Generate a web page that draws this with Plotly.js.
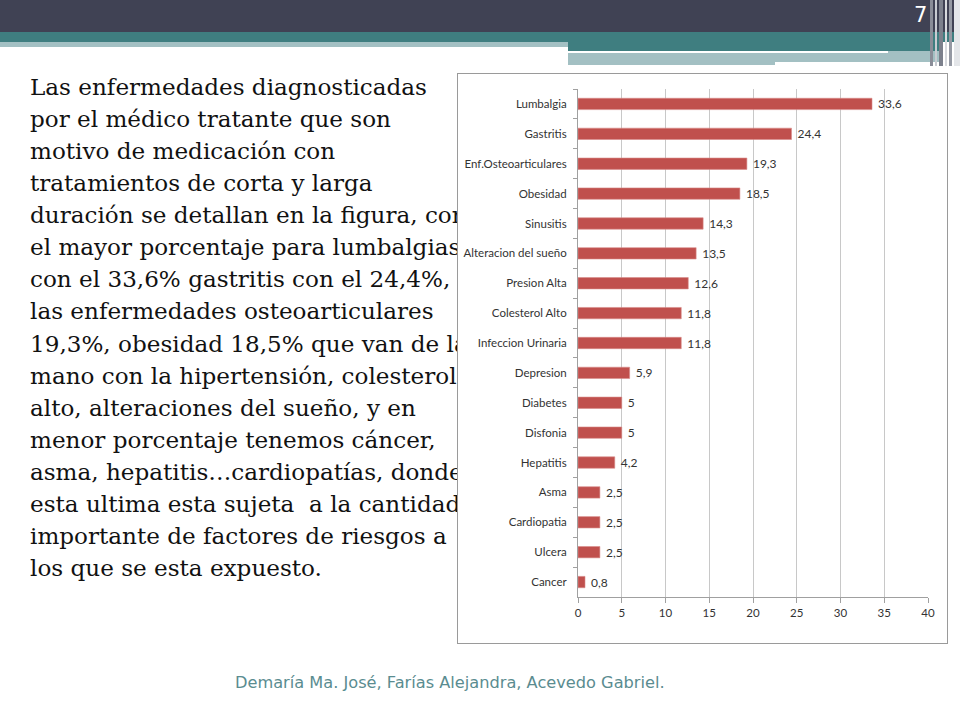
<!DOCTYPE html>
<html><head><meta charset="utf-8">
<script src="https://cdn.plot.ly/plotly-3.0.1.min.js"></script>
<style>
html,body{margin:0;padding:0;background:#fff;width:960px;height:720px;overflow:hidden;position:relative;}
.abs{position:absolute;}
#txt{position:absolute;left:30px;top:71px;font-family:"DejaVu Serif",serif;font-size:20px;line-height:32.07px;color:#111;white-space:nowrap;}
#txt div{height:32.07px;}
#chart{position:absolute;left:457px;top:73px;width:489px;height:569px;border:1px solid #9a9a9a;background:#fff;}
#foot{position:absolute;left:235px;top:673px;font-family:"DejaVu Sans",sans-serif;font-size:16.2px;color:#5a8c90;white-space:nowrap;}
#pnum{position:absolute;left:914px;top:3px;font-family:"DejaVu Sans",sans-serif;font-size:21px;color:#fff;}
</style></head>
<body>
<div class="abs" style="left:0;top:0;width:960px;height:32px;background:#404254;"></div>
<div class="abs" style="left:0;top:32px;width:960px;height:10px;background:#3f7e80;"></div>
<div class="abs" style="left:0;top:42px;width:568px;height:5px;background:#a3c0c3;"></div>
<div class="abs" style="left:568px;top:42px;width:372px;height:9px;background:#3f7e80;"></div>
<div class="abs" style="left:568px;top:51px;width:372px;height:14px;background:#a3c0c3;"></div>
<div class="abs" style="left:568px;top:51px;width:320px;height:2px;background:#ffffff;"></div>
<div class="abs" style="left:775px;top:62px;width:165px;height:3px;background:#ffffff;"></div>
<div class="abs" style="left:930px;top:0;width:3px;height:66px;background:#8a8d98;"></div>
<div class="abs" style="left:935px;top:0;width:2px;height:66px;background:#c9ccd2;"></div>
<div class="abs" style="left:939px;top:0;width:4px;height:66px;background:#7c808c;"></div>
<div class="abs" style="left:945px;top:0;width:2px;height:66px;background:#d8dade;"></div>
<div class="abs" style="left:949px;top:0;width:3px;height:66px;background:#9599a3;"></div>
<div class="abs" style="left:954px;top:0;width:6px;height:66px;background:#e4e6e9;"></div>
<div id="pnum">7</div>
<div id="txt"></div>
<div id="chart"></div>
<div id="foot">Demaría Ma. José, Farías Alejandra, Acevedo Gabriel.</div>
<script>
const textLines = [
"Las enfermedades diagnosticadas",
"por el médico tratante que son",
"motivo de medicación con",
"tratamientos de corta y larga",
"duración se detallan en la figura, con",
"el mayor porcentaje para lumbalgias,",
"con el 33,6% gastritis con el 24,4%,",
"las enfermedades osteoarticulares",
"19,3%, obesidad 18,5% que van de la",
"mano con la hipertensión, colesterol",
"alto, alteraciones del sueño, y en",
"menor porcentaje tenemos cáncer,",
"asma, hepatitis…cardiopatías, donde",
"esta ultima esta sujeta  a la cantidad",
"importante de factores de riesgos a",
"los que se esta expuesto."
];
const categories = ["Lumbalgia","Gastritis","Enf.Osteoarticulares","Obesidad","Sinusitis","Alteracion del sueño","Presion Alta","Colesterol Alto","Infeccion Urinaria","Depresion","Diabetes","Disfonia","Hepatitis","Asma","Cardiopatia","Ulcera","Cancer"];
const values = [33.6,24.4,19.3,18.5,14.3,13.5,12.6,11.8,11.8,5.9,5,5,4.2,2.5,2.5,2.5,0.8];
const xTicks = [0,5,10,15,20,25,30,35,40];

const txt = document.getElementById('txt');
textLines.forEach(l => { const d = document.createElement('div'); const s = document.createElement('span'); s.textContent = l; s.style.whiteSpace='pre'; d.appendChild(s); txt.appendChild(d); });
const firstSpan = txt.querySelector('span');
const w0 = firstSpan.getBoundingClientRect().width;
if (w0 > 0) txt.style.fontSize = (20 * 397 / w0).toFixed(2) + 'px';

const labelFont = {family: "Lato, 'Open Sans', sans-serif", size: 11.5, color: "#333333"};
const trace = {
  type: 'bar', orientation: 'h',
  x: values, y: categories,
  marker: {color: '#c0504d', line: {color: '#d98c8a', width: 0.6}},
  text: values.map(v => String(v).replace('.', ',')),
  texttemplate: '\u00a0%{text}',
  textposition: 'outside', cliponaxis: false, constraintext: 'none',
  textfont: {family: "Lato, 'Open Sans', sans-serif", size: 12, color: "#333333"},
  hoverinfo: 'skip'
};
const layout = {
  width: 489, height: 569,
  margin: {l: 120, r: 19, t: 15, b: 46},
  paper_bgcolor: '#fff', plot_bgcolor: '#fff',
  bargap: 0.62, showlegend: false,
  xaxis: {range: [0, 40], tickvals: xTicks, ticktext: xTicks.map(String),
    showgrid: true, gridcolor: '#c8c8c8', gridwidth: 1,
    showline: true, linecolor: '#a0a0a0', ticks: 'outside', ticklen: 5, tickcolor: '#a0a0a0',
    tickfont: {family: "Lato, 'Open Sans', sans-serif", size: 11.5, color: '#333333'}, zeroline: false, fixedrange: true},
  yaxis: {type: 'category', autorange: 'reversed', categoryorder: 'array', categoryarray: categories,
    showline: true, linecolor: '#a0a0a0', ticks: 'outside', tickson: 'boundaries', ticklen: 4, tickcolor: '#a0a0a0',
    ticklabelstandoff: 8,
    tickfont: labelFont, showgrid: false, fixedrange: true}
};
Plotly.newPlot('chart', [trace], layout, {displayModeBar: false, staticPlot: true});
</script>
</body></html>
